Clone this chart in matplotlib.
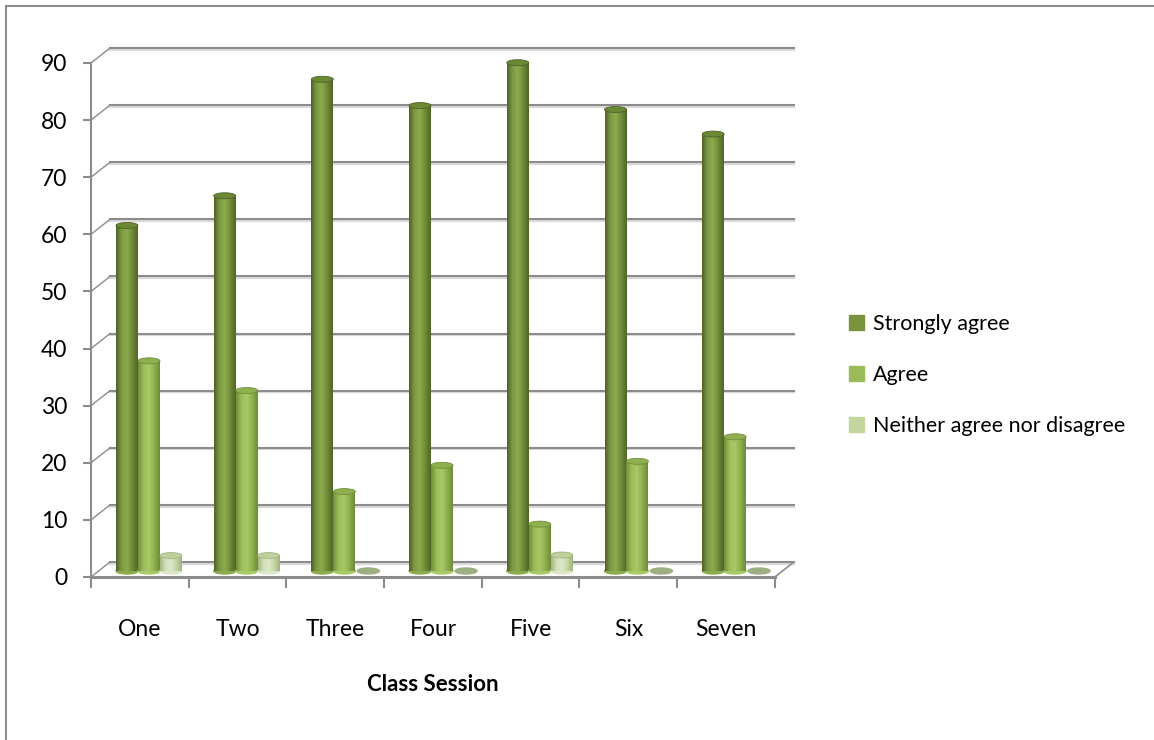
import numpy as np
import matplotlib
matplotlib.use('Agg')
import matplotlib.pyplot as plt
from matplotlib.patches import Ellipse, Patch
from matplotlib.colors import LinearSegmentedColormap
from matplotlib.lines import Line2D

plt.rcParams['font.family'] = ['Lato', 'DejaVu Sans']

# data (percent)
sessions = ['One', 'Two', 'Three', 'Four', 'Five', 'Six', 'Seven']
strongly_agree = [60.5, 65.7, 86.1, 81.5, 89.0, 80.8, 76.5]
agree = [36.8, 31.6, 13.9, 18.5, 8.2, 19.2, 23.5]
neither = [2.7, 2.7, 0, 0, 2.8, 0, 0]
series_names = ['Strongly agree', 'Agree', 'Neither agree nor disagree']
y_ticks = list(range(0, 91, 10))

# look of the fake 3d cylinders
legend_colors = ['#77933C', '#9BBB59', '#C3D69B']
shades = [['#4F6228', '#7E9B43', '#8CAA4E', '#6E8A36', '#506629'],
          ['#6F8F38', '#9CBE5A', '#A8C966', '#8DAF4E', '#6E8C38'],
          ['#A4B684', '#D3E0BA', '#DCE7C8', '#C6D6A6', '#9FB27E']]
caps = ['#6B8934', '#8FB04F', '#BFD09C']
zero_color = '#9DAE82'

grid_gray = '#8C8C8C'
dx, dy = 0.195, 2.63      # back wall offset (category units, value units)
base = 1.05               # bars stand a bit inside the floor
bar_w = 0.225
first_off = 0.256
cap_h = 1.05

fig = plt.figure(figsize=(11.54, 7.40), dpi=100)
ax = fig.add_axes([91 / 1154, 1 - 582.7 / 740, 713.2 / 1154, 539.7 / 740])
ax.set_facecolor('none')

n = len(sessions)

# back wall gridlines and the little connectors at the left edge
for v in y_ticks:
    ax.plot([dx, n + dx], [v + dy - 0.3, v + dy - 0.3], color='#DADADA', lw=1.6, zorder=1)
    ax.plot([dx, n + dx], [v + dy, v + dy], color=grid_gray, lw=1.5, zorder=1)
    ax.plot([0, dx], [v, v + dy], color=grid_gray, lw=1.0, zorder=1)
ax.plot([n, n + dx], [0, dy], color=grid_gray, lw=1.2, zorder=1)

grad = np.linspace(0, 1, 64).reshape(1, -1)
for k, vals in enumerate([strongly_agree, agree, neither]):
    cmap = LinearSegmentedColormap.from_list('c%d' % k, shades[k])
    for i, v in enumerate(vals):
        x0 = i + first_off + k * bar_w
        xc = x0 + bar_w / 2
        if v > 0:
            ax.add_patch(Ellipse((xc, base), bar_w, cap_h, color=shades[k][2], zorder=3 + k))
            ax.imshow(grad, cmap=cmap, extent=(x0, x0 + bar_w, base, base + v),
                      aspect='auto', zorder=3 + k, interpolation='bilinear')
            ax.add_patch(Ellipse((xc, base + v), bar_w, cap_h, facecolor=caps[k],
                                 edgecolor=shades[k][0], lw=0.6, zorder=3 + k))
        else:
            ax.add_patch(Ellipse((xc + 0.02, base), bar_w, cap_h, color=zero_color, zorder=3 + k))

ax.set_xlim(0, 7.3)
ax.set_ylim(-1, 93.5)

# axes
for s in ['top', 'right']:
    ax.spines[s].set_visible(False)
ax.spines['left'].set_bounds(0, 90)
ax.spines['left'].set_color(grid_gray)
ax.spines['left'].set_linewidth(1.5)
ax.spines['bottom'].set_position(('data', 0))
ax.spines['bottom'].set_bounds(0, n)
ax.spines['bottom'].set_color(grid_gray)
ax.spines['bottom'].set_linewidth(2.2)

ax.set_yticks(y_ticks)
ax.tick_params(axis='y', length=6, width=1.5, color=grid_gray, pad=11, labelsize=16.5)
ax.set_xticks(range(n + 1))
ax.set_xticklabels([])
ax.set_xticks([i + 0.5 for i in range(n)], minor=True)
ax.set_xticklabels(sessions, minor=True)
ax.tick_params(axis='x', which='major', length=8, width=1.5, color=grid_gray)
ax.tick_params(axis='x', which='minor', length=0, pad=30, labelsize=16.5)

ax.set_xlabel('Class Session', fontsize=16, fontweight='bold')
ax.xaxis.set_label_coords(3.5 / 7.3, -0.17)

handles = [Patch(color=c) for c in legend_colors]
fig.legend(handles, series_names, loc='center left', bbox_to_anchor=(830 / 1154, 1 - 375 / 740),
           frameon=False, fontsize=15.5, handlelength=0.7, handleheight=0.7,
           handletextpad=0.4, labelspacing=1.45)

# outer chart border (only top and left visible)
fig.add_artist(Line2D([6 / 1154, 6 / 1154], [0, 1 - 6 / 740], color=grid_gray, lw=1.5))
fig.add_artist(Line2D([6 / 1154, 1], [1 - 6 / 740, 1 - 6 / 740], color=grid_gray, lw=1.5))

fig.savefig('out.png', dpi=100)
